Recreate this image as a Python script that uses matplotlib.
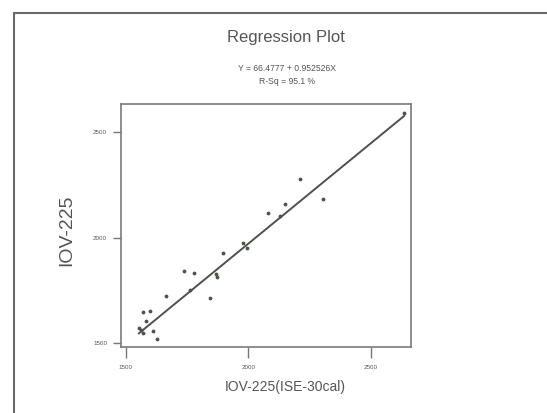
import numpy as np
import matplotlib.pyplot as plt
from matplotlib.lines import Line2D

plt.rcParams['font.family'] = ['Liberation Sans', 'DejaVu Sans']

# IOV-225 measured against the ISE-30 calibration
x_cal = [1553, 1561, 1569, 1582, 1569, 1598, 1610, 1627, 1663, 1737, 1778,
         1761, 1843, 1867, 1871, 1896, 1978, 1994, 2080, 2129, 2149, 2210,
         2304, 2635]
y_iov = [1571, 1562, 1547, 1604, 1647, 1652, 1557, 1519, 1723, 1841, 1832,
         1751, 1713, 1827, 1813, 1927, 1974, 1950, 2116, 2102, 2159, 2277,
         2182, 2590]

intercept = 66.4777
slope = 0.952526
r_sq = 95.1

x_ticks = [1500, 2000, 2500]
y_ticks = [1500, 2000, 2500]

ink = '#4d524d'
text_col = '#555555'

fig = plt.figure(figsize=(5.47, 4.13), dpi=100)
ax = fig.add_axes([0.2212, 0.1598, 0.5302, 0.5884])

ax.scatter(x_cal, y_iov, s=3, color=ink, zorder=3)
xf = np.array([min(x_cal), max(x_cal)])
ax.plot(xf, intercept + slope * xf, color=ink, lw=1.4)

ax.set_xlim(1480, 2663)
ax.set_ylim(1481, 2633)
ax.set_xticks(x_ticks)
ax.set_yticks(y_ticks)
ax.tick_params(axis='x', direction='out', length=8, width=1, colors='#777777',
               labelsize=4.5, labelcolor=text_col, pad=5)
ax.tick_params(axis='y', direction='out', length=6, width=1, colors='#777777',
               labelsize=4.5, labelcolor=text_col, pad=4)
for sp in ax.spines.values():
    sp.set_color('#7a7a7a')
    sp.set_linewidth(1.2)

ax.set_xlabel('IOV-225(ISE-30cal)', fontsize=10, color=text_col)
ax.xaxis.set_label_coords(0.566, -0.135)
ax.set_ylabel('IOV-225', fontsize=14, color=text_col)
ax.yaxis.set_label_coords(-0.157, 0.48)

fig.text(0.523, 0.908, 'Regression Plot', ha='center', va='center',
         fontsize=12, color=text_col)
fig.text(0.525, 0.835, 'Y = %.4f + %.6fX' % (intercept, slope), ha='center',
         va='center', fontsize=6.2, color=text_col)
fig.text(0.525, 0.803, 'R-Sq = %.1f %%' % r_sq, ha='center', va='center',
         fontsize=6.2, color=text_col)

# page border along the left and top edges
fig.add_artist(Line2D([14 / 547, 14 / 547], [0, 1 - 13 / 413],
                      transform=fig.transFigure, color='#6a6a6a', lw=1.5))
fig.add_artist(Line2D([14 / 547, 1], [1 - 13 / 413, 1 - 13 / 413],
                      transform=fig.transFigure, color='#6a6a6a', lw=1.5))

fig.savefig('out.png', dpi=100)
